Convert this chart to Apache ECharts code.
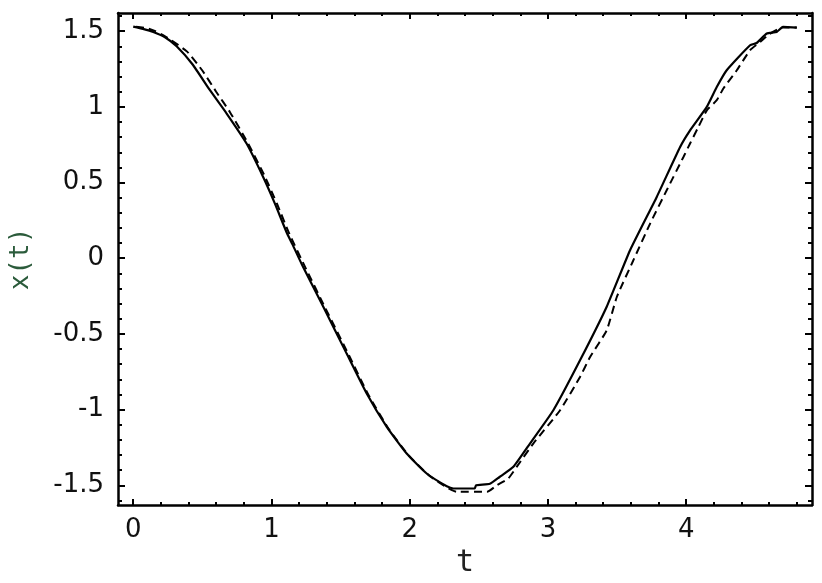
<!DOCTYPE html>
<html>
<head>
<meta charset="utf-8">
<script src="https://cdn.jsdelivr.net/npm/echarts@6/dist/echarts.min.js"></script>
<style>html,body{margin:0;padding:0;background:#fff}#c{width:822px;height:583px}</style>
</head>
<body>
<div id="c"></div>
<script>
// Solid curve
const tSolid = [0, 0.07, 0.145, 0.23, 0.314, 0.43, 0.555, 0.676, 0.82, 0.94, 1.025, 1.11, 1.153, 1.23, 1.375, 1.544, 1.689, 1.834, 1.978, 2.123, 2.268, 2.316, 2.47, 2.48, 2.58, 2.65, 2.75, 2.87, 3.039, 3.232, 3.425, 3.594, 3.787, 3.956, 4.028, 4.149, 4.221, 4.293, 4.462, 4.51, 4.583, 4.655, 4.70, 4.80];
const xSolid = [1.53, 1.515, 1.495, 1.46, 1.40, 1.28, 1.11, 0.956, 0.758, 0.537, 0.361, 0.17, 0.09, -0.06, -0.32, -0.63, -0.894, -1.114, -1.29, -1.422, -1.506, -1.521, -1.521, -1.50, -1.49, -1.445, -1.378, -1.224, -1.004, -0.674, -0.32, 0.053, 0.405, 0.735, 0.845, 1.0, 1.131, 1.242, 1.407, 1.422, 1.484, 1.495, 1.528, 1.524];
// Dashed curve
const tDashed = [0.02, 0.1, 0.16, 0.25, 0.39, 0.5, 0.6, 0.7, 0.83, 0.95, 1.04, 1.13, 1.25, 1.39, 1.56, 1.70, 1.85, 1.99, 2.14, 2.28, 2.34, 2.56, 2.63, 2.713, 2.774, 2.894, 3.088, 3.232, 3.305, 3.425, 3.498, 3.618, 3.739, 3.859, 3.98, 4.028, 4.088, 4.149, 4.221, 4.269, 4.366, 4.462, 4.535, 4.60, 4.70, 4.80];
const xDashed = [1.53, 1.52, 1.50, 1.455, 1.365, 1.24, 1.10, 0.965, 0.76, 0.545, 0.36, 0.16, -0.07, -0.33, -0.64, -0.90, -1.13, -1.30, -1.435, -1.52, -1.543, -1.543, -1.50, -1.455, -1.378, -1.224, -1.004, -0.784, -0.652, -0.476, -0.256, -0.013, 0.229, 0.449, 0.669, 0.758, 0.867, 0.977, 1.044, 1.121, 1.242, 1.374, 1.429, 1.48, 1.525, 1.524];
// Ticks
const xMajorTicks = [0, 1, 2, 3, 4];
const xMinorTicks = [0.2, 0.4, 0.6, 0.8, 1.2, 1.4, 1.6, 1.8, 2.2, 2.4, 2.6, 2.8, 3.2, 3.4, 3.6, 3.8, 4.2, 4.4, 4.6, 4.8];
const yMajorTicks = [-1.5, -1, -0.5, 0, 0.5, 1, 1.5];
const yMinorTicks = [-1.6, -1.4, -1.3, -1.2, -1.1, -0.9, -0.8, -0.7, -0.6, -0.4, -0.3, -0.2, -0.1, 0.1, 0.2, 0.3, 0.4, 0.6, 0.7, 0.8, 0.9, 1.1, 1.2, 1.3, 1.4, 1.6];
const xName = 't';
const yName = 'x(t)';

const X_MIN = -0.11, X_MAX = 4.91, Y_MIN = -1.63, Y_MAX = 1.62;
const lineStyleAxis = { color: '#000', width: 2.5 };
const fontMain = 'DejaVu Sans';

function xAx(pos, ticks, len, showLine, showLabel, extra) {
  return Object.assign({
    type: 'value', position: pos, min: X_MIN, max: X_MAX,
    axisLine: { show: showLine, onZero: false, lineStyle: lineStyleAxis },
    axisTick: { show: true, inside: true, length: len, customValues: ticks, lineStyle: { color: '#000', width: 2 } },
    axisLabel: showLabel ? { show: true, customValues: ticks, fontFamily: fontMain, fontSize: 26, color: '#111', margin: 12 } : { show: false },
    splitLine: { show: false }
  }, extra || {});
}
function yAx(pos, ticks, len, showLine, showLabel, extra) {
  return Object.assign({
    type: 'value', position: pos, min: Y_MIN, max: Y_MAX,
    axisLine: { show: showLine, onZero: false, lineStyle: lineStyleAxis },
    axisTick: { show: true, inside: true, length: len, customValues: ticks, lineStyle: { color: '#000', width: 2 } },
    axisLabel: showLabel ? { show: true, customValues: ticks, fontFamily: fontMain, fontSize: 26, color: '#111', margin: 14 } : { show: false },
    splitLine: { show: false }
  }, extra || {});
}

const chart = echarts.init(document.getElementById('c'), null, { renderer: 'canvas' });
chart.setOption({
  animation: false,
  backgroundColor: '#fff',
  grid: { left: 118, right: 10, top: 13, bottom: 78, containLabel: false, outerBoundsMode: 'none' },
  xAxis: [
    xAx('bottom', xMajorTicks, 6, true, true, {
      name: xName, nameLocation: 'middle', nameGap: 42,
      nameTextStyle: { fontFamily: 'DejaVu Sans Mono', fontSize: 30, color: '#222' }
    }),
    xAx('top', xMajorTicks, 6, true, false),
    xAx('bottom', xMinorTicks, 3, false, false),
    xAx('top', xMinorTicks, 3, false, false)
  ],
  yAxis: [
    yAx('left', yMajorTicks, 7, true, true, {
      name: yName, nameLocation: 'middle', nameGap: 84, nameRotate: 90,
      nameTextStyle: { fontFamily: 'DejaVu Sans Mono', fontSize: 26, color: '#2b5b3b' }
    }),
    yAx('right', yMajorTicks, 7, true, false),
    yAx('left', yMinorTicks, 4, false, false),
    yAx('right', yMinorTicks, 4, false, false)
  ],
  series: [
    {
      type: 'line', xAxisIndex: 0, yAxisIndex: 0, showSymbol: false, symbol: 'none', smooth: 0.15,
      data: tSolid.map((t, i) => [t, xSolid[i]]),
      lineStyle: { color: '#000', width: 2.2, type: 'solid' }
    },
    {
      type: 'line', xAxisIndex: 0, yAxisIndex: 0, showSymbol: false, symbol: 'none', smooth: 0.15,
      data: tDashed.map((t, i) => [t, xDashed[i]]),
      lineStyle: { color: '#000', width: 2, type: [8, 5] }
    }
  ]
});
</script>
</body>
</html>
